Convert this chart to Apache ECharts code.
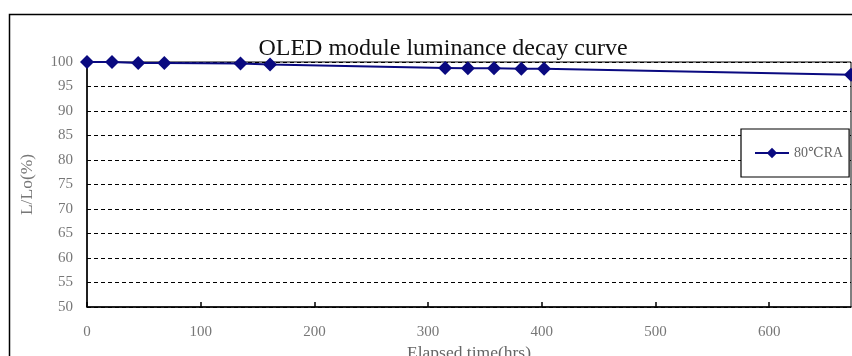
<!DOCTYPE html>
<html>
<head>
<meta charset="utf-8">
<script src="https://cdn.jsdelivr.net/npm/echarts@6/dist/echarts.min.js"></script>
<style>html,body{margin:0;padding:0;background:#fff;}#c{width:852px;height:356px;}</style>
</head>
<body>
<div id="c"></div>
<script>
var hours = [0, 22, 45, 68, 135, 161, 315, 335, 358, 382, 402, 672];
var luminance = [100, 100, 99.8, 99.8, 99.7, 99.5, 98.8, 98.7, 98.7, 98.6, 98.6, 97.4];
var seriesName = '80\u2103RA';
var titleText = 'OLED module luminance decay curve';
var xName = 'Elapsed time(hrs)';
var yName = 'L/Lo(%)';

var serif = '"Liberation Serif", "DejaVu Serif", serif';
var chart = echarts.init(document.getElementById('c'));
chart.setOption({
  animation: false,
  backgroundColor: '#fff',
  graphic: [{
    type: 'rect', left: 7, top: 12, z: -10,
    shape: { width: 900, height: 400 },
    style: { fill: 'none', stroke: '#000', lineWidth: 1.5 }
  }],
  title: {
    text: titleText, left: 438, top: 32, textAlign: 'center',
    textStyle: { fontFamily: serif, fontSize: 24, fontWeight: 'normal', color: '#111' }
  },
  grid: { left: 87, right: 1, top: 62, bottom: 49, show: true, borderColor: '#000', borderWidth: 1, backgroundColor: 'transparent', outerBoundsMode: 'none', containLabel: false },
  legend: {
    left: 741, top: 129,
    padding: [17, 6, 17, 13],
    backgroundColor: '#fff',
    borderColor: '#000', borderWidth: 1.2,
    itemWidth: 34, itemHeight: 13,
    itemGap: 0,
    textStyle: { fontFamily: serif, fontSize: 14, color: '#666' },
    data: [seriesName]
  },
  xAxis: {
    type: 'value', min: 0, max: 672, interval: 100,
    name: xName, nameLocation: 'middle', nameGap: 36,
    nameTextStyle: { fontFamily: serif, fontSize: 17.5, color: '#666' },
    axisLine: { lineStyle: { color: '#000', width: 1.5 } },
    axisTick: { inside: true, length: 5, lineStyle: { color: '#000', width: 1.5 } },
    axisLabel: { fontFamily: serif, fontSize: 15, color: '#777', margin: 18, showMaxLabel: false },
    splitLine: { show: false }
  },
  yAxis: {
    type: 'value', min: 50, max: 100, interval: 5,
    name: yName, nameLocation: 'middle', nameGap: 51, nameRotate: 90,
    nameTextStyle: { fontFamily: serif, fontSize: 17.5, color: '#777' },
    axisLine: { show: true, lineStyle: { color: '#000', width: 1.5 } },
    axisTick: { show: false },
    axisLabel: { fontFamily: serif, fontSize: 15, color: '#777', margin: 14 },
    splitLine: { show: true, lineStyle: { color: '#000', type: [4, 3], width: 1 } }
  },
  series: [{
    name: seriesName, type: 'line',
    data: hours.map(function (h, i) { return [h, luminance[i]]; }),
    symbol: 'diamond', symbolSize: 14,
    lineStyle: { color: '#0a0a80', width: 2 },
    itemStyle: { color: '#0a0a80' },
    clip: false
  }]
});
</script>
</body>
</html>
